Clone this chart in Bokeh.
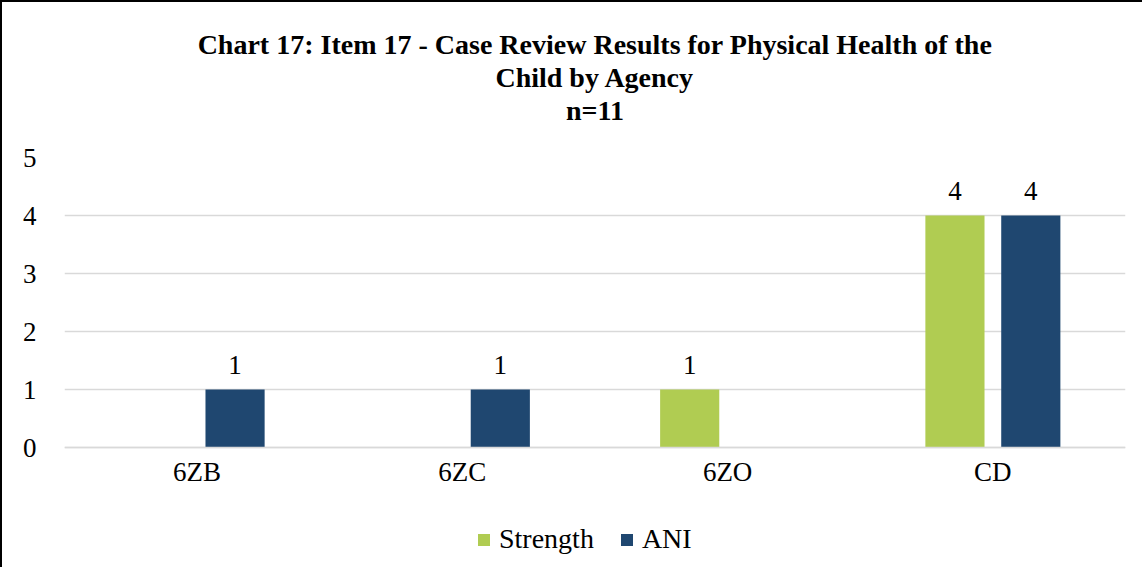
from bokeh.plotting import figure
from bokeh.models import ColumnDataSource, Title, Legend, LegendItem, FactorRange
from bokeh.transform import dodge
from bokeh.embed import file_html
from bokeh.resources import INLINE

categories = ["6ZB", "6ZC", "6ZO", "CD"]
strength = [0, 0, 1, 4]
ani = [1, 1, 0, 4]
series_names = ["Strength", "ANI"]
title_lines = ["Chart 17: Item 17 - Case Review Results for Physical Health of the",
               "Child by Agency", "n=11"]
y_ticks = [0, 1, 2, 3, 4, 5]

GREEN = "#B0CC52"
NAVY = "#1F4770"
FONT = "Liberation Serif"

src = ColumnDataSource(dict(
    cat=categories, strength=strength, ani=ani,
    s_lab=[str(v) if v else "" for v in strength],
    a_lab=[str(v) if v else "" for v in ani],
))

# frame reaches down to the legend area; value axis 0..5 occupies the upper 290px
FRAME_H = 410
PX_PER_UNIT = 58.0
y_start = -(FRAME_H - 5 * PX_PER_UNIT) / PX_PER_UNIT

p = figure(x_range=FactorRange(*categories), y_range=(y_start, 5),
           frame_width=1061, frame_height=FRAME_H,
           output_backend="svg", toolbar_location=None,
           min_border_left=62, min_border_right=17, min_border_top=0, min_border_bottom=0)
p.styles = {"border-left": "2px solid #000", "border-top": "2px solid #000"}
p.x_range.range_padding = 0
p.outline_line_color = None

r1 = p.vbar(x=dodge("cat", -0.143, range=p.x_range), top="strength", width=0.223,
            source=src, fill_color=GREEN, line_color=None)
r2 = p.vbar(x=dodge("cat", 0.143, range=p.x_range), top="ani", width=0.223,
            source=src, fill_color=NAVY, line_color=None)

p.text(x=dodge("cat", -0.143, range=p.x_range), y="strength", text="s_lab", source=src,
       text_align="center", text_baseline="bottom", y_offset=-16,
       text_font=FONT, text_font_size="27px", text_color="#000")
p.text(x=dodge("cat", 0.143, range=p.x_range), y="ani", text="a_lab", source=src,
       text_align="center", text_baseline="bottom", y_offset=-16,
       text_font=FONT, text_font_size="27px", text_color="#000")

# inner spacer, then title lines (bottom line first), then outer spacer
p.add_layout(Title(text=" ", text_font_size="26px", standoff=0), "above")
for t in reversed(title_lines):
    p.add_layout(Title(text=t, align="center", text_font=FONT, text_font_size="28px",
                       text_font_style="bold", text_color="#000", standoff=0,
                       offset=-14), "above")
p.add_layout(Title(text=" ", text_font_size="20px", standoff=0), "above")

p.yaxis.ticker = y_ticks
p.yaxis.axis_line_color = None
p.yaxis.major_tick_line_color = None
p.yaxis.minor_tick_line_color = None
p.yaxis.major_label_text_font = FONT
p.yaxis.major_label_text_font_size = "27px"
p.yaxis.major_label_text_color = "#000"
p.yaxis.major_label_standoff = 22

p.xaxis.fixed_location = 0
p.xaxis.axis_line_color = "#D9D9D9"
p.xaxis.axis_line_width = 1.5
p.xaxis.major_tick_line_color = None
p.xaxis.minor_tick_line_color = None
p.xaxis.major_label_text_font = FONT
p.xaxis.major_label_text_font_size = "27px"
p.xaxis.major_label_text_color = "#000"
p.xaxis.major_label_standoff = 3

p.xgrid.grid_line_color = None
p.ygrid.grid_line_color = "#D9D9D9"
p.ygrid.grid_line_width = 1.5

legend = Legend(items=[LegendItem(label=series_names[0], renderers=[r1]),
                       LegendItem(label=series_names[1], renderers=[r2])],
                orientation="horizontal", location=(412, 12),
                label_text_font=FONT, label_text_font_size="28px", label_text_color="#000",
                label_height=28,
                glyph_width=15, glyph_height=15, spacing=25, border_line_color=None,
                background_fill_alpha=0,
                margin=0, padding=0, label_standoff=8)
p.add_layout(legend, "center")

open("out.html", "w").write(file_html(p, INLINE))
